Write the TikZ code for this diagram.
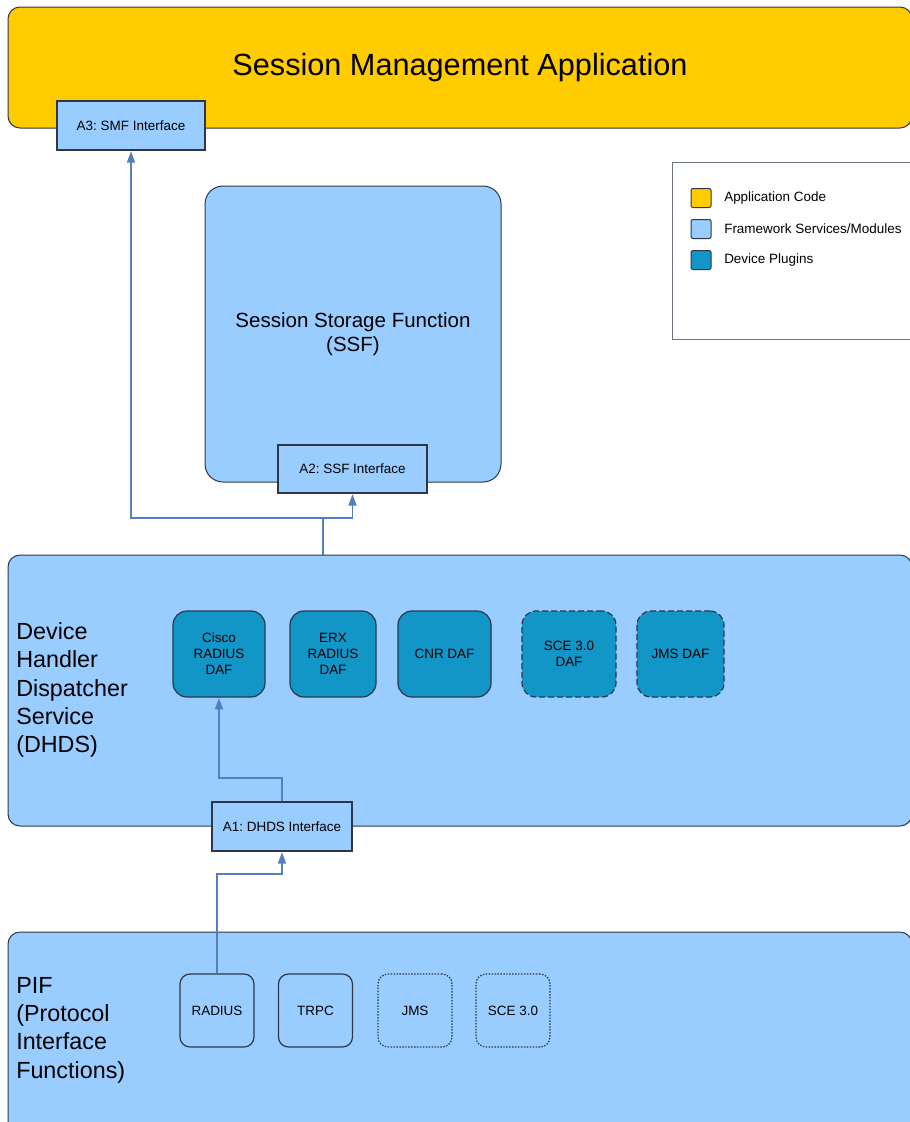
\documentclass[tikz,border=0pt]{standalone}
\usepackage{fontspec}
\setmainfont{Liberation Sans}
\frenchspacing
\usetikzlibrary{arrows.meta}

\definecolor{appcode}{RGB}{255,204,0}
\definecolor{framework}{RGB}{153,204,255}
\definecolor{plugin}{RGB}{18,150,200}
\definecolor{edge}{RGB}{45,55,72}
\definecolor{linkblue}{RGB}{84,126,190}

\tikzset{
  bigbox/.style={draw=edge, line width=0.75pt, rounded corners=9pt, inner sep=0.75pt},
  appbox/.style={bigbox, fill=appcode},
  fwbox/.style={bigbox, fill=framework},
  ifbox/.style={draw=edge, line width=1pt, fill=framework, inner sep=0.75pt, font=\fontsize{10.1}{12}\selectfont},
  dafbox/.style={draw=edge, line width=0.9pt, fill=plugin, rounded corners=10.5pt, minimum height=64.5pt, align=center, inner sep=0.75pt, font=\fontsize{10.1}{12}\selectfont},
  pifbox/.style={draw=edge, line width=0.9pt, fill=framework, rounded corners=7.5pt, minimum width=55.5pt, minimum height=54.75pt, inner sep=0.75pt, font=\fontsize{10.1}{12}\selectfont},
  planned/.style={dash pattern={on 4.5pt off 2.25pt}},
  optional/.style={dash pattern={on 1.1pt off 1.1pt}},
  swatch/.style={draw=edge, line width=0.75pt, rounded corners=1.5pt, minimum width=15pt, minimum height=14.25pt, inner sep=0pt},
  legendtext/.style={anchor=west, inner sep=0.75pt, font=\fontsize{10.1}{12}\selectfont},
  sidelabel/.style={anchor=west, align=left, inner sep=0.75pt, font=\fontsize{17.5}{21.3}\selectfont},
  link/.style={draw=linkblue, line width=1.1pt},
  arrow/.style={link, -{Triangle[length=8.5pt,width=6pt]}, shorten >=0.4pt}
}

\begin{document}
\begin{tikzpicture}[x=0.75pt,y=0.75pt,yscale=-1,xscale=1]
	\path [use as bounding box] (0,0) rectangle (910,1122);
	\clip (0,0) rectangle (910,1122);

	%Rounded Rect [application]
	\draw (460,67.5) node [appbox, minimum width=678pt, minimum height=90.75pt] (sma) {\fontsize{23}{27}\selectfont Session Management Application};
	%Rect [A3]
	\draw (131,125.5) node [ifbox, minimum width=111pt, minimum height=36.75pt] (a3) {A3: SMF Interface};

	%Rect [legend]
	\draw (796,250.5) node [draw=edge!70, line width=0.75pt, fill=white, minimum width=186pt, minimum height=132.75pt] (legend) {};
	\draw (701,198) node [swatch, fill=appcode] (swapp) {};
	\draw (701,229) node [swatch, fill=framework] (swfw) {};
	\draw (701,260) node [swatch, fill=plugin] (swdev) {};
	% Text Node
	\draw (723,198) node [legendtext] (lgapp) {Application Code};
	% Text Node
	\draw (723,229) node [legendtext] (lgfw) {Framework Services/Modules};
	% Text Node
	\draw (723,260) node [legendtext] (lgdev) {Device Plugins};

	%Rounded Rect [SSF]
	\draw (353,334) node [fwbox, rounded corners=13.5pt, minimum width=222pt, minimum height=222pt, align=center, font=\fontsize{15.4}{18}\selectfont] (ssf) {Session Storage Function\\(SSF)};
	%Rect [A2]
	\draw (352.5,469) node [ifbox, minimum width=111.75pt, minimum height=36pt] (a2) {A2: SSF Interface};

	%Rounded Rect [DHDS]
	\draw (460,690.5) node [fwbox, minimum width=678pt, minimum height=203.25pt] (dhds) {};
	% Text Node
	\draw (15,690) node [sidelabel] (dhdslbl) {Device\\Handler\\Dispatcher\\Service\\(DHDS)};
	\draw (219,654) node [dafbox, minimum width=69pt] (cisco) {Cisco\\RADIUS\\DAF};
	\draw (333,654) node [dafbox, minimum width=64.5pt] (erx) {ERX\\RADIUS\\DAF};
	\draw (444.5,654) node [dafbox, minimum width=69.75pt] (cnr) {CNR DAF};
	\draw (569,654) node [dafbox, planned, minimum width=70.5pt] (sce) {SCE 3.0\\DAF};
	\draw (680.5,654) node [dafbox, planned, minimum width=65.25pt] (jms) {JMS DAF};
	%Rect [A1]
	\draw (282,826.5) node [ifbox, minimum width=105pt, minimum height=36.75pt] (a1) {A1: DHDS Interface};

	%Rounded Rect [PIF]
	\draw (460,1033.5) node [fwbox, minimum width=678pt, minimum height=152.25pt] (pif) {};
	% Text Node
	\draw (15,1030) node [sidelabel] (piflbl) {PIF\\(Protocol\\Interface\\Functions)};
	\draw (217,1010.5) node [pifbox] (radius) {RADIUS};
	\draw (315.5,1010.5) node [pifbox] (trpc) {TRPC};
	\draw (415,1010.5) node [pifbox, optional] (jmsp) {JMS};
	\draw (513,1010.5) node [pifbox, optional] (scep) {SCE 3.0};

	%Connectors
	\coordinate (split) at (323,518);
	\coordinate (dafbend) at (282,778);
	\coordinate (pifbend) at (217,874);
	\draw [link] (split |- dhds.north) -- (split);
	\draw [arrow] (split) -| (a3.south);
	\draw [arrow] (split) -| (a2.south);
	\draw [arrow] (a1.north) -- (dafbend) -| (cisco.south);
	\draw [arrow] (radius.north) -- (pifbend) -| (a1.south);

\end{tikzpicture}
\end{document}
